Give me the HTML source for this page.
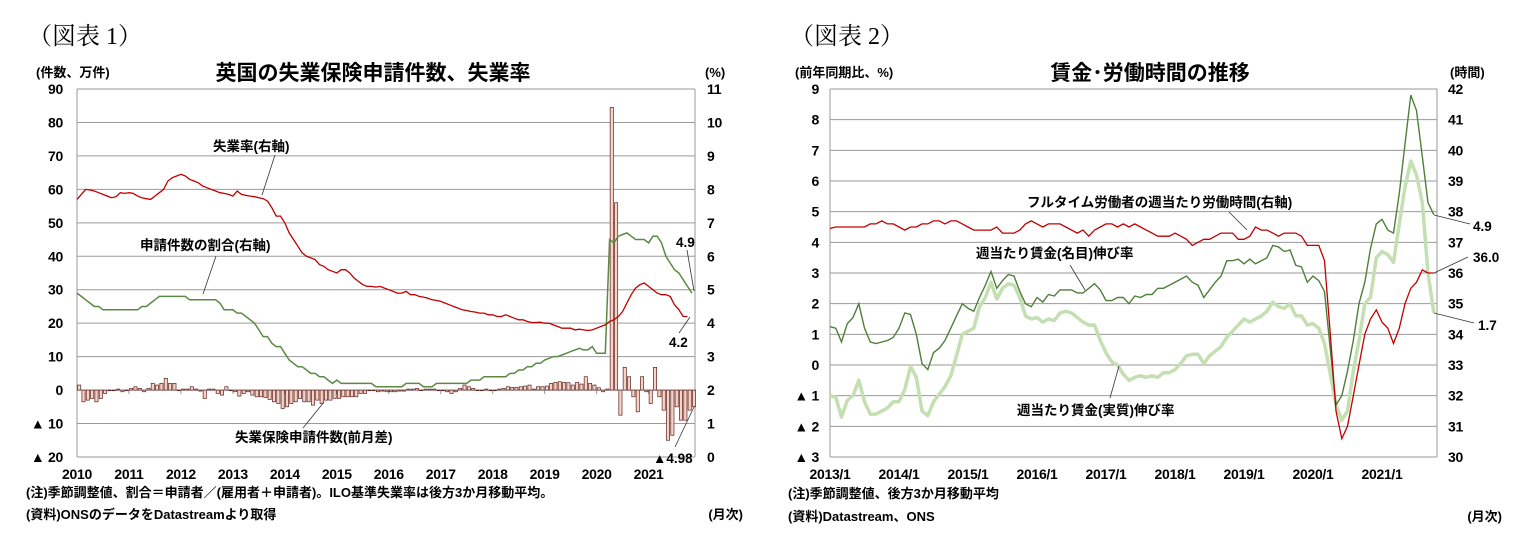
<!DOCTYPE html>
<html><head><meta charset="utf-8">
<style>
html,body{margin:0;padding:0;background:#fff;}
svg{display:block;}
text{font-family:"Liberation Sans","Noto Sans CJK JP",sans-serif;fill:#000;}
.tk{font-size:14px;font-weight:bold;letter-spacing:-0.3px;}
.ann{font-size:13.5px;font-weight:bold;}
.note{font-size:13px;font-weight:bold;}
.fig{font-family:"Liberation Serif","Noto Serif CJK SC",serif;font-size:24px;}
.ttl{font-size:21px;font-weight:bold;}
</style></head>
<body>
<svg id="svg" width="1526" height="559" viewBox="0 0 1526 559" xmlns="http://www.w3.org/2000/svg">
<g id="left">
<text class="fig" x="28" y="44">（図表 1）</text>
<text class="note" x="36" y="77">(件数、万件)</text>
<text class="ttl" x="373" y="80" text-anchor="middle">英国の失業保険申請件数、失業率</text>
<text class="note" x="705" y="77">(%)</text>
<g id="l-grid"></g><g id="l-bars"></g><g id="l-lines"></g><g id="l-ticks"></g>
<text class="ann" x="213" y="151">失業率(右軸)</text>
<line x1="275" y1="155" x2="262" y2="195" stroke="#333" stroke-width="0.8"/>
<text class="ann" x="140" y="250">申請件数の割合(右軸)</text>
<line x1="216" y1="256" x2="203" y2="294" stroke="#333" stroke-width="0.8"/>
<text class="ann" x="235" y="442">失業保険申請件数(前月差)</text>
<line x1="303" y1="428" x2="324" y2="402" stroke="#333" stroke-width="0.8"/>
<text class="ann" x="676" y="247">4.9</text>
<line x1="687" y1="250" x2="694" y2="291" stroke="#333" stroke-width="0.8"/>
<text class="ann" x="669" y="347">4.2</text>
<line x1="679" y1="333" x2="690" y2="317" stroke="#333" stroke-width="0.8"/>
<text class="ann" x="653" y="463">▲4.98</text>
<line x1="675" y1="447" x2="694" y2="407" stroke="#333" stroke-width="0.8"/>
<text class="note" x="26" y="497">(注)季節調整値、割合＝申請者／(雇用者＋申請者)。ILO基準失業率は後方3か月移動平均。</text>
<text class="note" x="26" y="519">(資料)ONSのデータをDatastreamより取得</text>
<text class="note" x="743" y="519" text-anchor="end">(月次)</text>
</g>
<g id="right">
<text class="fig" x="790" y="44">（図表 2）</text>
<text class="note" x="795" y="77">(前年同期比、%)</text>
<text class="ttl" x="1150" y="80" text-anchor="middle">賃金･労働時間の推移</text>
<text class="note" x="1450" y="77">(時間)</text>
<g id="r-grid"></g><g id="r-lines"></g><g id="r-ticks"></g>
<text class="ann" x="1027" y="207">フルタイム労働者の週当たり労働時間(右軸)</text>
<line x1="1229" y1="212" x2="1247" y2="230" stroke="#333" stroke-width="0.8"/>
<text class="ann" x="976" y="258">週当たり賃金(名目)伸び率</text>
<line x1="1070" y1="265" x2="1085" y2="290" stroke="#333" stroke-width="0.8"/>
<text class="ann" x="1017" y="415">週当たり賃金(実質)伸び率</text>
<line x1="1110" y1="398" x2="1119" y2="366" stroke="#333" stroke-width="0.8"/>
<text class="ann" x="1473" y="231">4.9</text>
<line x1="1434" y1="215" x2="1470" y2="224" stroke="#333" stroke-width="0.8"/>
<text class="ann" x="1473" y="262">36.0</text>
<line x1="1434" y1="273" x2="1468" y2="257" stroke="#333" stroke-width="0.8"/>
<text class="ann" x="1478" y="330">1.7</text>
<line x1="1434" y1="313" x2="1474" y2="323" stroke="#333" stroke-width="0.8"/>
<text class="note" x="788" y="498">(注)季節調整値、後方3か月移動平均</text>
<text class="note" x="788" y="521">(資料)Datastream、ONS</text>
<text class="note" x="1502" y="521" text-anchor="end">(月次)</text>
</g>
</svg>
<script>
// ---- Chart 1 data (monthly from 2010/1) ----
const leftYears = ["2010","2011","2012","2013","2014","2015","2016","2017","2018","2019","2020","2021"];
const leftTicksL = ["90","80","70","60","50","40","30","20","10","0","▲ 10","▲ 20"];
const leftTicksR = ["11","10","9","8","7","6","5","4","3","2","1","0"];
const claimantChange = [
1.5,-3.5,-3,-2.5,-3.5,-2.5,-1,0,0,0.3,-0.5,0,
0.5,1,0.5,-0.5,0.5,2,1.5,2,3.5,2,2,0,
0.3,0.3,1,0.3,-0.3,-2.5,0.3,0.3,-1,-1.5,1,0,
-0.5,-1.8,-1,-0.5,-1.5,-2,-2,-2.2,-2.8,-3.5,-4,-5.5,
-5,-4,-3.5,-2.5,-3.5,-3.5,-4.5,-3,-4,-3,-3,-2.5,
-2.5,-2,-2,-2,-2,-1,-1,0,0,-0.5,-0.3,-0.5,
-0.5,-0.5,-0.3,-0.3,0.3,0.3,0.5,0,0.3,0.3,0.3,0,
0,-0.5,-1,-0.5,0.5,1.5,1,0.5,0,0,0.3,0,
0,0.3,0.5,1,0.8,0.8,1,1.2,1.5,0.3,1,1,
1.2,2,2.3,2.5,2.3,2.2,1.5,2.3,1.8,4,2,1.5,
0.7,-0.5,0.3,84.5,56,-7.5,6.8,4,-2,-6.5,4,-0.5,
-4,6.8,-2,-6,-15,-13.5,-5,-9,-9,-6,-4.98];
const unempRate = [
7.7,7.85,8.0,7.98,7.95,7.9,7.85,7.8,7.75,7.78,7.9,7.88,
7.9,7.88,7.8,7.75,7.72,7.7,7.8,7.9,8.0,8.25,8.35,8.4,
8.45,8.4,8.3,8.25,8.2,8.1,8.05,8.0,7.95,7.9,7.88,7.85,
7.8,7.95,7.85,7.82,7.8,7.78,7.75,7.72,7.65,7.45,7.2,7.2,
7.0,6.7,6.5,6.3,6.1,6.0,5.95,5.9,5.75,5.7,5.6,5.55,
5.5,5.6,5.6,5.5,5.35,5.25,5.15,5.1,5.1,5.08,5.1,5.05,
5.0,4.95,4.9,4.9,4.95,4.85,4.85,4.8,4.78,4.75,4.7,4.68,
4.65,4.6,4.55,4.5,4.45,4.4,4.38,4.35,4.33,4.3,4.3,4.25,
4.25,4.2,4.2,4.25,4.2,4.15,4.1,4.1,4.05,4.02,4.02,4.03,
4.0,4.0,3.95,3.9,3.85,3.85,3.85,3.8,3.82,3.8,3.78,3.8,
3.85,3.9,3.95,4.05,4.1,4.2,4.35,4.6,4.85,5.05,5.15,5.2,
5.1,5.0,4.9,4.85,4.85,4.8,4.55,4.4,4.2,4.2];
const claimantShare = [
4.9,4.8,4.7,4.6,4.5,4.5,4.4,4.4,4.4,4.4,4.4,4.4,
4.4,4.4,4.4,4.5,4.5,4.6,4.7,4.8,4.8,4.8,4.8,4.8,
4.8,4.8,4.7,4.7,4.7,4.7,4.7,4.7,4.7,4.6,4.4,4.4,
4.4,4.3,4.3,4.2,4.1,4.0,3.8,3.6,3.6,3.4,3.3,3.3,
3.1,2.9,2.8,2.7,2.7,2.6,2.5,2.5,2.4,2.4,2.3,2.2,
2.3,2.2,2.2,2.2,2.2,2.2,2.2,2.2,2.2,2.1,2.1,2.1,
2.1,2.1,2.1,2.1,2.2,2.2,2.2,2.2,2.1,2.1,2.1,2.2,
2.2,2.2,2.2,2.2,2.2,2.2,2.2,2.3,2.3,2.3,2.4,2.4,
2.4,2.4,2.4,2.4,2.5,2.5,2.6,2.6,2.7,2.7,2.8,2.8,
2.9,2.95,3.0,3.0,3.05,3.1,3.15,3.2,3.25,3.2,3.2,3.3,
3.1,3.1,3.1,6.5,6.4,6.6,6.65,6.7,6.6,6.5,6.5,6.5,
6.4,6.6,6.6,6.4,6.0,5.8,5.6,5.5,5.3,5.1,4.9];
// ---- Chart 2 data (monthly from 2013/1) ----
const rightYears = ["2013/1","2014/1","2015/1","2016/1","2017/1","2018/1","2019/1","2020/1","2021/1"];
const rightTicksL = ["9","8","7","6","5","4","3","2","1","0","▲ 1","▲ 2","▲ 3"];
const rightTicksR = ["42","41","40","39","38","37","36","35","34","33","32","31","30"];
const hoursWorked = [
37.45,37.5,37.5,37.5,37.5,37.5,37.5,37.6,37.6,37.7,37.6,37.6,
37.5,37.4,37.5,37.5,37.6,37.6,37.7,37.7,37.6,37.7,37.7,37.6,
37.5,37.4,37.4,37.4,37.4,37.5,37.3,37.3,37.3,37.4,37.6,37.7,
37.6,37.5,37.6,37.6,37.6,37.5,37.4,37.3,37.4,37.2,37.4,37.5,
37.6,37.6,37.5,37.6,37.5,37.6,37.5,37.4,37.3,37.2,37.2,37.2,
37.3,37.2,37.1,36.9,37.0,37.1,37.1,37.2,37.3,37.3,37.3,37.1,
37.1,37.2,37.5,37.4,37.4,37.3,37.2,37.3,37.3,37.3,37.2,36.9,
36.9,36.9,36.4,34.0,31.5,30.6,31.0,32.0,33.0,34.0,34.5,34.8,
34.4,34.2,33.7,34.2,35.0,35.5,35.7,36.1,36.0,36.0];
const nominalWage = [
1.25,1.2,0.75,1.35,1.55,2.0,1.2,0.75,0.7,0.75,0.8,0.9,
1.2,1.7,1.65,1.0,0.05,-0.15,0.4,0.55,0.8,1.2,1.6,2.0,
1.85,1.75,2.2,2.6,3.05,2.5,2.75,2.95,2.9,2.4,2.0,1.9,
2.2,2.05,2.3,2.25,2.45,2.45,2.45,2.35,2.35,2.5,2.65,2.45,
2.1,2.1,2.2,2.2,2.0,2.25,2.2,2.3,2.3,2.5,2.5,2.6,
2.7,2.8,2.9,2.7,2.6,2.2,2.45,2.7,2.9,3.4,3.4,3.45,
3.3,3.45,3.3,3.4,3.5,3.9,3.85,3.7,3.75,3.25,3.2,2.7,
2.9,2.75,2.4,0.5,-1.3,-1.0,-0.2,0.8,2.0,2.7,3.8,4.6,
4.75,4.4,4.3,5.6,7.2,8.8,8.3,6.8,5.3,4.9];
const realWage = [
-1.0,-1.05,-1.7,-1.15,-1.0,-0.5,-1.2,-1.6,-1.6,-1.5,-1.4,-1.2,
-1.2,-0.8,-0.05,-0.4,-1.5,-1.65,-1.2,-0.95,-0.7,-0.35,0.3,1.0,
1.1,1.2,1.9,2.2,2.7,2.15,2.5,2.65,2.6,2.2,1.6,1.5,
1.55,1.4,1.5,1.45,1.7,1.75,1.7,1.55,1.4,1.3,1.3,0.8,
0.4,0.1,0.0,-0.3,-0.5,-0.4,-0.35,-0.4,-0.35,-0.4,-0.25,-0.25,
-0.15,0.05,0.3,0.35,0.35,0.05,0.3,0.45,0.6,0.9,1.1,1.3,
1.5,1.4,1.5,1.6,1.75,2.05,1.9,1.85,2.0,1.6,1.6,1.3,
1.35,1.2,0.7,-0.3,-1.3,-1.8,-1.5,-0.2,0.8,2.0,2.2,3.5,
3.7,3.6,3.35,4.6,5.8,6.65,6.2,5.3,3.0,1.7];

const NS="http://www.w3.org/2000/svg";
function mk(parent,tag,attrs){const e=document.createElementNS(NS,tag);for(const k in attrs)e.setAttribute(k,attrs[k]);document.getElementById(parent).appendChild(e);return e;}

// ---- Chart 1 axes ----
const L={x0:77,x1:695,y0:89,y1:457,month:4.33};
function lx(m){return L.x0+m*L.month;}
function lyL(v){return L.y0+(90-v)/110*(L.y1-L.y0);}
function lyR(v){return L.y0+(11-v)/11*(L.y1-L.y0);}
leftTicksL.forEach((t,i)=>{
  const y=L.y0+i*(L.y1-L.y0)/(leftTicksL.length-1);
  const g=mk('l-grid','line',{x1:L.x0,x2:L.x1,y1:y,y2:y,stroke:'#9a9a9a','stroke-width':1});
  
  
  const tl=mk('l-ticks','text',{x:63,y:y+5,'text-anchor':'end',class:'tk'});tl.textContent=t;
  
  
  const tr=mk('l-ticks','text',{x:707,y:y+5,class:'tk'});tr.textContent=leftTicksR[i];
  
  
});
[L.x0,L.x1].forEach(x=>{const a=mk('l-grid','line',{x1:x,x2:x,y1:L.y0,y2:L.y1,stroke:'#9a9a9a','stroke-width':1});
  
  });
leftYears.forEach((t,i)=>{
  const x=lx(i*12);
  const tx=mk('l-ticks','text',{x:x,y:479,'text-anchor':'middle',class:'tk'});tx.textContent=t;
  
  
  mk('l-grid','line',{x1:x,x2:x,y1:lyL(0),y2:lyL(0)+4,stroke:'#9a9a9a'});
});
claimantChange.forEach((v,m)=>{
  const y0=lyL(0),y=lyL(v);
  const b=mk('l-bars','rect',{x:lx(m+0.5)-1.6,y:Math.min(y,y0),width:3.2,height:Math.max(Math.abs(y-y0),0.6),fill:'#f6d3c4',stroke:'#5c2020','stroke-width':0.7});
  
  
});
function pathFrom(arr,fx,fy){return arr.map((v,i)=>(i?'L':'M')+fx(i).toFixed(1)+','+fy(v).toFixed(1)).join('');}
const ls=mk('l-lines','path',{d:pathFrom(claimantShare,lx,lyR),fill:'none',stroke:'#5b8a45','stroke-width':1.5});


const lu=mk('l-lines','path',{d:pathFrom(unempRate,lx,lyR),fill:'none',stroke:'#c00000','stroke-width':1.3});



// ---- Chart 2 axes ----
const R={x0:830,x1:1437,y0:89,y1:457,month:5.75};
function rx(m){return R.x0+m*R.month;}
function ryL(v){return R.y0+(9-v)/12*(R.y1-R.y0);}
function ryR(v){return R.y0+(42-v)/12*(R.y1-R.y0);}
rightTicksL.forEach((t,i)=>{
  const y=R.y0+i*(R.y1-R.y0)/(rightTicksL.length-1);
  const g=mk('r-grid','line',{x1:R.x0,x2:R.x1,y1:y,y2:y,stroke:'#9a9a9a','stroke-width':1});
  
  
  const tl=mk('r-ticks','text',{x:819,y:y+5,'text-anchor':'end',class:'tk'});tl.textContent=t;
  
  
  const tr=mk('r-ticks','text',{x:1448,y:y+5,class:'tk'});tr.textContent=rightTicksR[i];
  
  
});
[R.x0,R.x1].forEach(x=>{const a=mk('r-grid','line',{x1:x,x2:x,y1:R.y0,y2:R.y1,stroke:'#9a9a9a','stroke-width':1});
  
  });
rightYears.forEach((t,i)=>{
  const tx=mk('r-ticks','text',{x:rx(i*12),y:479,'text-anchor':'middle',class:'tk'});tx.textContent=t;
  
  
});
const rr=mk('r-lines','path',{d:pathFrom(realWage,rx,ryL),fill:'none',stroke:'#c4dfb2','stroke-width':3.5,'stroke-linejoin':'round'});


const rn=mk('r-lines','path',{d:pathFrom(nominalWage,rx,ryL),fill:'none',stroke:'#4f7f3a','stroke-width':1.4});


const rh=mk('r-lines','path',{d:pathFrom(hoursWorked,rx,ryR),fill:'none',stroke:'#c00000','stroke-width':1.3});


</script>
</body></html>
